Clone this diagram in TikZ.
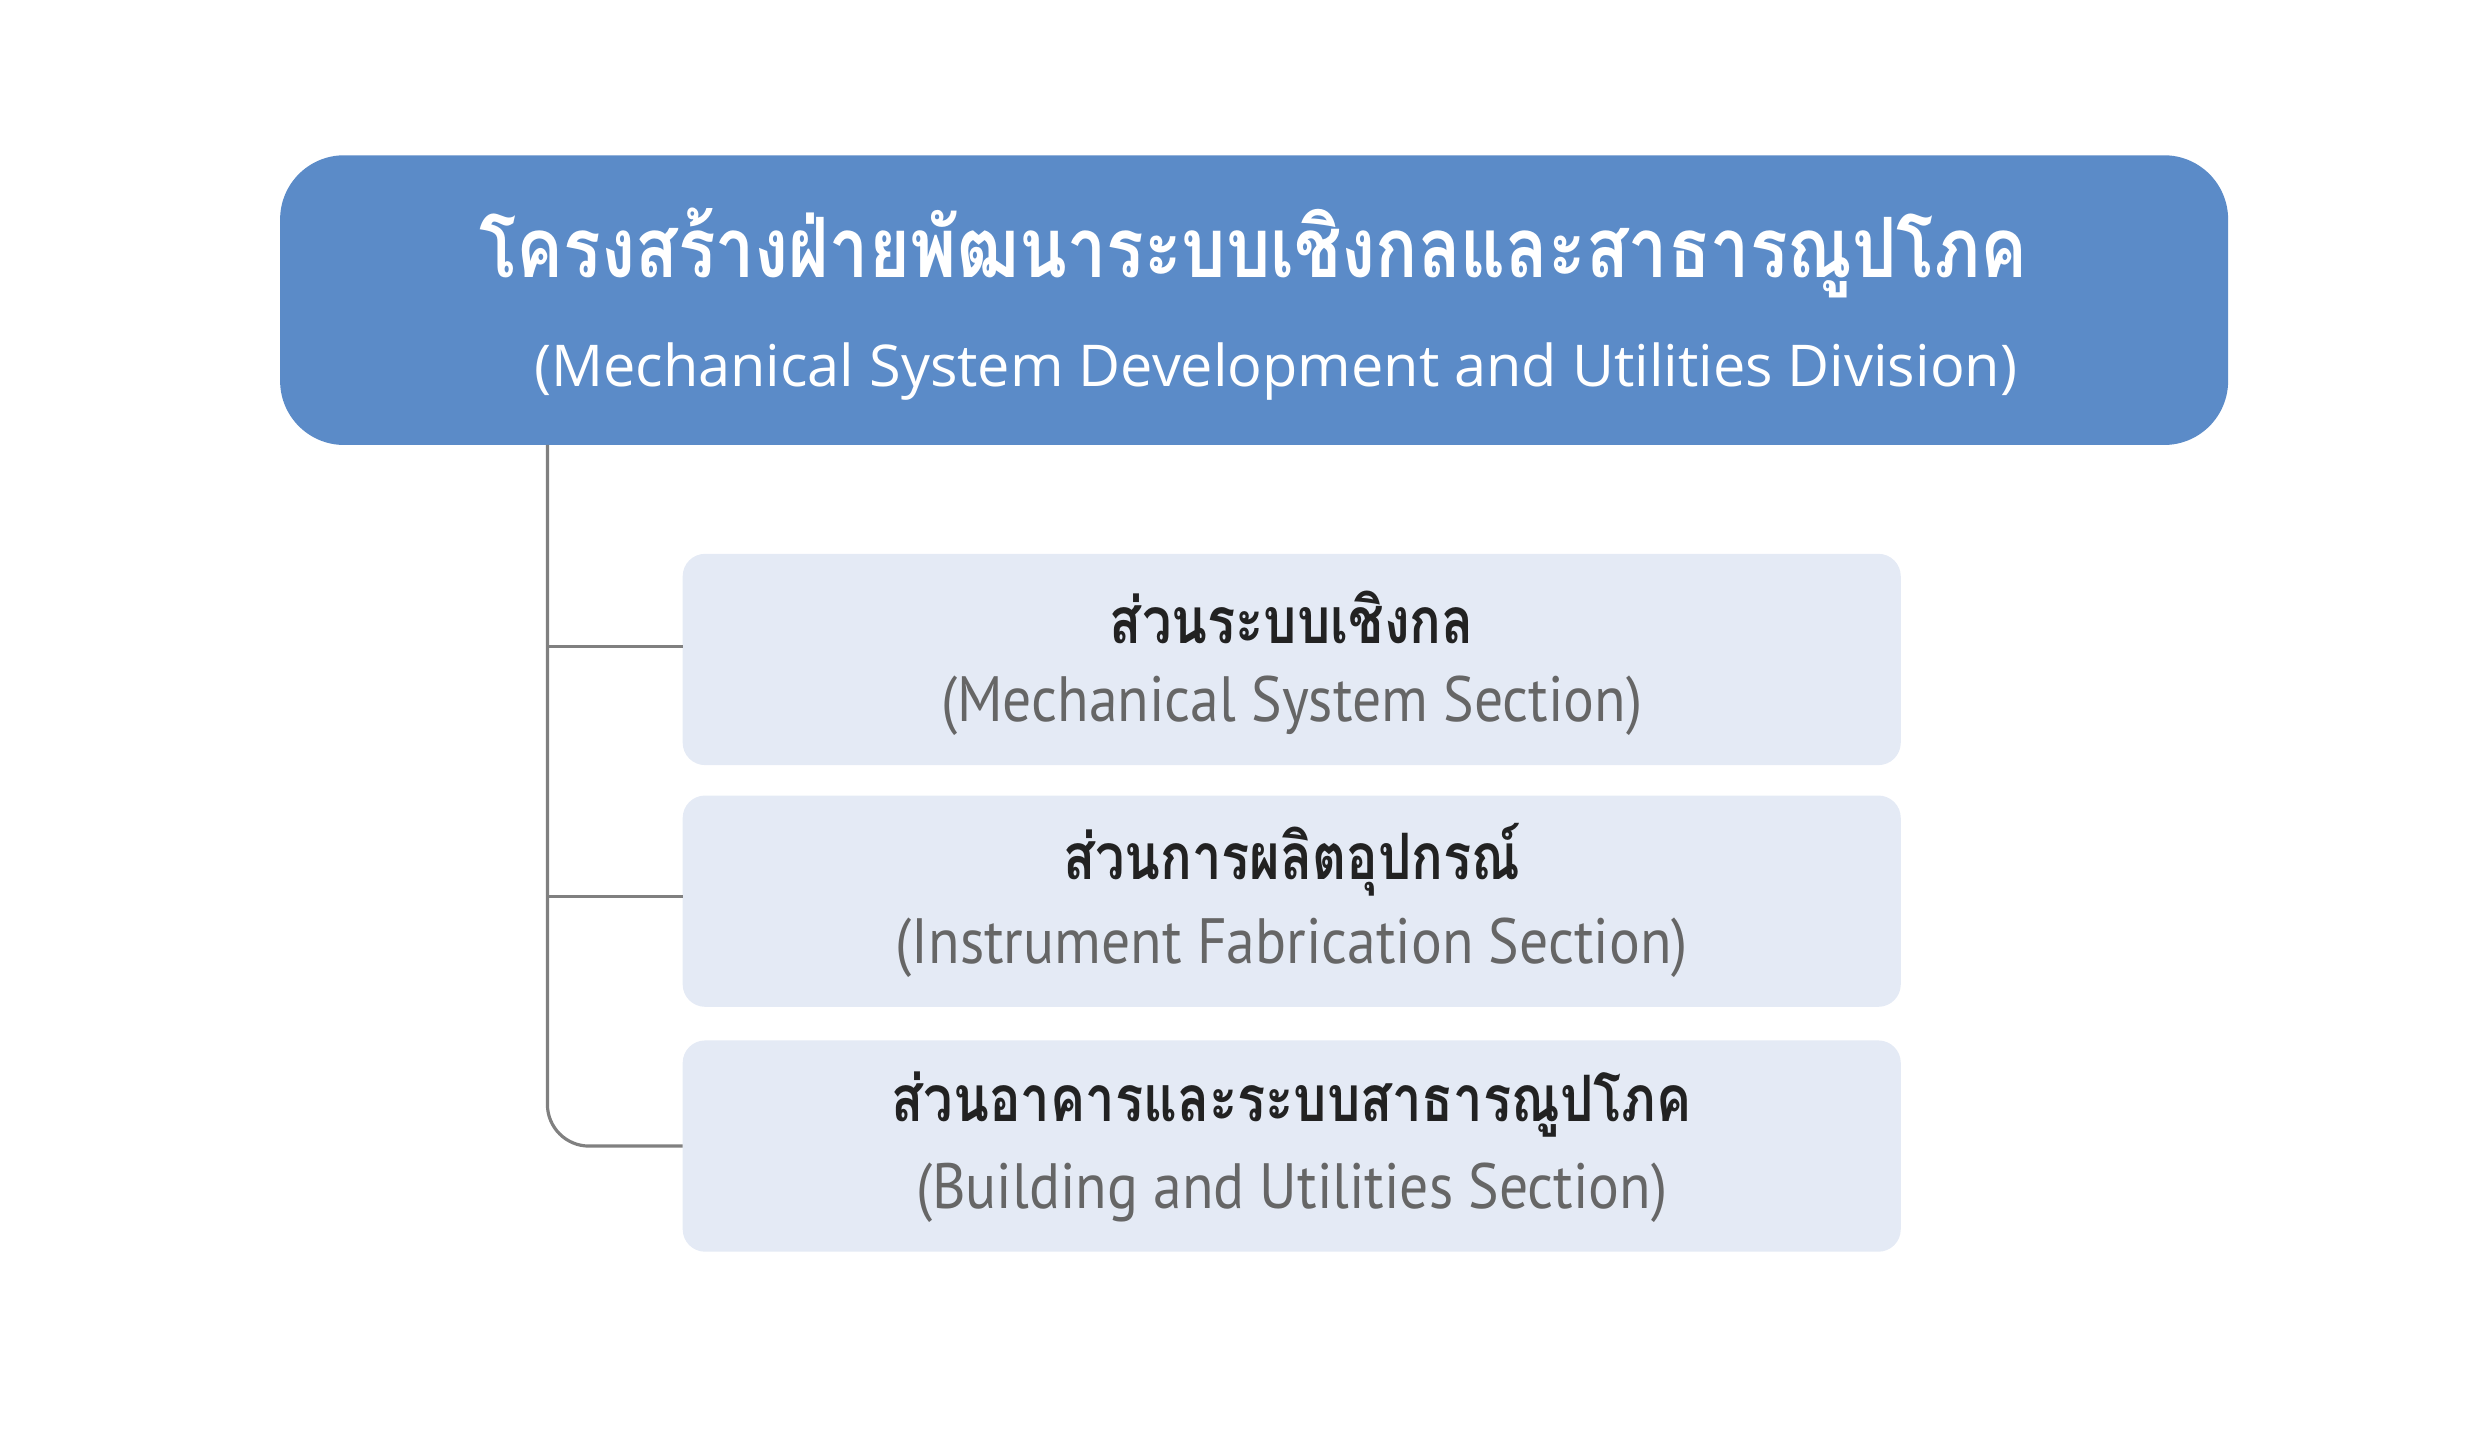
\documentclass[tikz,border=0pt]{standalone}
\usepackage{fontspec}
\newfontfamily\thai[Script=Thai,FakeStretch=0.84]{Loma}
\newfontfamily\thaic[Script=Thai,FakeStretch=0.82]{Loma}
\newfontfamily\latl{Open Sans}
\newfontfamily\latc[FakeStretch=0.9]{PT Sans}
\definecolor{topc}{HTML}{5B8BC8}
\definecolor{subc}{HTML}{E4EAF5}
\definecolor{linec}{HTML}{808080}
\definecolor{gtext}{HTML}{666666}
\definecolor{dtext}{HTML}{222222}
\tikzset{x=1pt,y=-1pt,
 sub/.style={fill=subc,rounded corners=14pt,minimum width=761pt,minimum height=132pt,draw=none,outer sep=0pt},
 conn/.style={draw=linec,line width=2pt}}
\begin{document}
\begin{tikzpicture}
\useasboundingbox (0,0) rectangle (1550,902);
\node[fill=topc,rounded corners=40pt,minimum width=1217pt,minimum height=181pt,outer sep=0pt] (top) at (783.5,187.5) {};
\node[text=white] (t1) at (783,158) {\thai\bfseries\fontsize{52}{56}\selectfont โครงสร้างฝ่ายพัฒนาระบบเชิงกลและสาธารณูปโภค};
\node[text=white] (t2) at (797,232) {\latl\fontsize{36}{40}\selectfont (Mechanical System Development and Utilities Division)};
\node[sub] (a) at (807,412) {};
\node[sub] (b) at (807,563) {};
\node[sub] (c) at (807,716) {};
\foreach \n/\th/\en in {a/ส่วนระบบเชิงกล/Mechanical System Section,b/ส่วนการผลิตอุปกรณ์/Instrument Fabrication Section,c/ส่วนอาคารและระบบสาธารณูปโภค/Building and Utilities Section}{
 \node[text=dtext] (\n th) at ([yshift=26pt]\n.center) {\thaic\bfseries\fontsize{40}{44}\selectfont \th};
 \node[text=gtext] (\n en) at ([yshift=-29pt]\n.center) {\latc\fontsize{40}{44}\selectfont (\en)};
}
\coordinate (s) at (342,278);
\draw[conn] (s) -- (342,690) arc[start angle=180,end angle=90,radius=26] -- (c.west);
\draw[conn] (342,404) -- (427,404);
\draw[conn] (342,560) -- (427,560);
\end{tikzpicture}
\end{document}
